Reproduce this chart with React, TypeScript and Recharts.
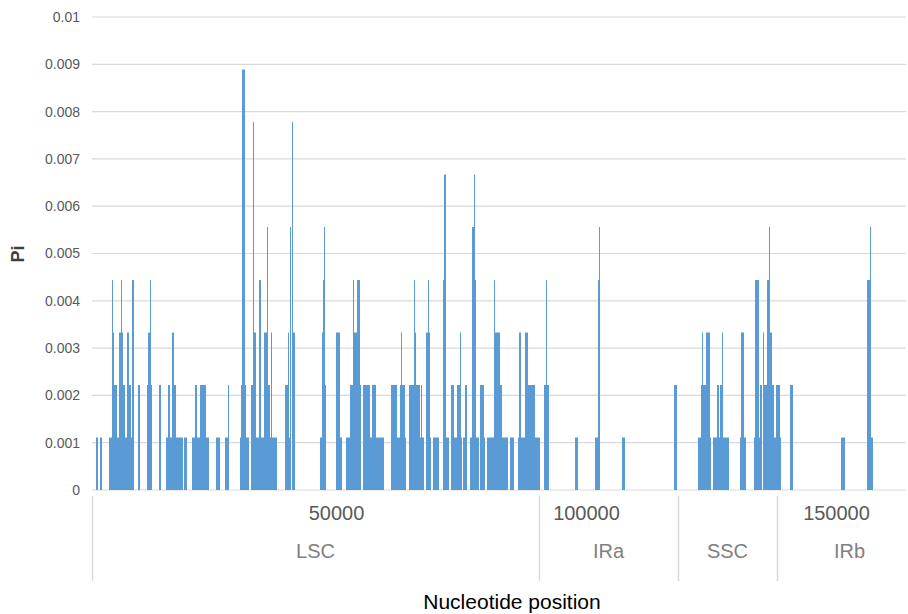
import React from 'react';
import { BarChart, Bar, XAxis, YAxis, CartesianGrid, Label } from 'recharts';

// Pi values (multiples of 1/900)
const P1 = 0.00111, P2 = 0.00222, P3 = 0.00333, P4 = 0.00444, P5 = 0.00556, P6 = 0.00667, P7 = 0.00778, P8 = 0.00889;

// Windows with non-zero nucleotide diversity: [start kb, end kb, Pi]
const lscBlocks: [number, number, number][] = [
  [1.9, 2.3, P1], [2.7, 3.1, P1], [4.5, 5.1, P1], [5.2, 5.6, P3], [5.6, 6.1, P2], [6.1, 6.5, P1],
  [6.5, 6.9, P3], [6.9, 7.3, P3], [7.3, 7.7, P2], [7.7, 8.1, P1], [8.1, 8.5, P3], [8.5, 8.9, P2],
  [8.9, 9.1, P1], [9.1, 9.5, P4], [10.4, 10.7, P2], [12.1, 12.4, P2], [12.4, 12.9, P3], [12.9, 13.1, P2],
  [14.6, 14.9, P2], [15.9, 16.4, P1], [16.4, 16.7, P2], [16.7, 17.2, P1], [17.2, 17.6, P3], [17.6, 17.9, P2],
  [17.9, 19.4, P1], [19.5, 20.2, P1], [21.1, 21.7, P1], [21.7, 22.1, P2], [22.1, 22.7, P1], [22.7, 24.0, P2],
  [24.0, 24.5, P1], [26.0, 26.8, P1], [27.8, 28.3, P1], [30.7, 30.9, P1], [30.9, 31.2, P2], [31.2, 31.7, P8],
  [31.7, 32.0, P2], [32.0, 32.5, P1], [32.9, 33.4, P2], [33.4, 33.6, P6], [33.6, 33.9, P3], [33.9, 34.5, P1],
  [34.5, 35.0, P4], [35.0, 35.6, P1], [35.6, 36.4, P3], [36.4, 36.8, P2], [36.8, 38.2, P1], [39.8, 40.3, P2],
  [40.3, 40.7, P1], [40.7, 41.0, P5], [41.1, 41.8, P3], [46.7, 47.1, P1], [47.1, 47.3, P3], [47.3, 47.6, P4],
  [47.6, 48.0, P2], [50.0, 50.7, P3], [50.7, 51.1, P1], [52.0, 52.7, P1], [52.7, 53.1, P2], [53.1, 53.5, P2],
  [53.5, 54.1, P3], [54.1, 54.7, P4], [54.7, 54.9, P2], [55.3, 56.7, P2], [56.7, 57.1, P1], [57.1, 58.0, P2],
  [58.0, 59.5, P1], [60.9, 62.1, P2], [62.1, 62.7, P1], [62.7, 63.1, P2], [63.1, 63.7, P2], [63.7, 64.0, P1],
  [64.5, 65.5, P2], [65.5, 66.0, P3], [66.0, 66.8, P2], [66.8, 67.6, P1], [68.0, 68.7, P3], [68.7, 68.9, P1],
  [69.3, 70.5, P1], [71.3, 72.0, P4], [71.6, 71.9, P6], [72.0, 72.5, P1], [72.9, 73.5, P2], [73.5, 74.1, P1],
  [74.1, 74.8, P2], [74.8, 75.1, P1], [75.3, 75.8, P1], [75.8, 76.1, P2], [76.7, 77.1, P1], [77.1, 77.5, P5],
  [77.5, 77.7, P6], [77.7, 78.0, P4], [78.0, 78.5, P1], [78.8, 79.5, P2], [79.5, 79.8, P1], [80.1, 81.5, P1],
  [81.6, 82.8, P3], [82.8, 83.1, P2], [83.1, 84.3, P1], [84.8, 85.5, P1], [86.3, 86.5, P1], [86.5, 86.9, P3],
  [86.9, 87.8, P1], [87.8, 88.3, P3], [88.3, 89.8, P2], [89.8, 90.7, P1],
];
const lscPeaks: [number, number][] = [
  [5.1, P4], [6.9, P4], [12.7, P4], [28.3, P2], [33.3, P7], [36.1, P5], [36.9, P3], [40.3, P3],
  [41.1, P7], [47.5, P5], [53.3, P4], [63.0, P3], [65.6, P4], [67.0, P2], [68.3, P4], [74.7, P3], [81.5, P4],
];

const iraBlocks: [number, number, number][] = [
  [91.5, 92.5, P2], [97.8, 98.3, P1], [101.8, 102.3, P1], [102.3, 102.8, P4], [107.1, 107.8, P1], [117.5, 118.1, P2],
];
const iraPeaks: [number, number][] = [[92.0, P4], [102.5, P5]];

const sscBlocks: [number, number, number][] = [
  [122.3, 122.9, P1], [122.9, 123.4, P2], [123.4, 124.0, P2], [124.0, 124.7, P3], [124.7, 124.9, P1],
  [125.3, 126.1, P1], [126.1, 126.5, P2], [126.5, 126.7, P1], [126.7, 127.2, P2], [127.2, 128.5, P1],
  [130.8, 131.0, P1], [131.0, 131.5, P3], [131.5, 131.9, P1], [133.5, 133.8, P1], [133.8, 134.5, P4],
  [134.5, 134.8, P1], [134.8, 135.2, P2], [135.5, 136.1, P2], [136.1, 136.5, P4], [136.5, 137.1, P3],
  [137.1, 137.6, P2], [137.6, 138.0, P1], [138.0, 138.7, P2], [138.7, 138.9, P1],
];
const sscPeaks: [number, number][] = [[123.1, P3], [127.2, P3], [135.3, P3], [136.5, P5]];

const irbBlocks: [number, number, number][] = [
  [140.8, 141.3, P2], [151.0, 151.7, P1], [156.1, 156.7, P4], [156.7, 157.3, P1],
];
const irbPeaks: [number, number][] = [[156.7, P5]];

// Axis labels
const positionTicks = [50000, 100000, 150000];
const yTicks = [0, 0.001, 0.002, 0.003, 0.004, 0.005, 0.006, 0.007, 0.008, 0.009, 0.01];
const regionNames = ['LSC', 'IRa', 'SSC', 'IRb'];
const regionStartKb = [1.2, 90.5, 118.3, 138.1];
const regionEndKb = [90.5, 118.3, 138.1, 167.0];

// Sliding windows (200 bp step) covering the displayed range
const START_BP = 1200;
const STEP_BP = 200;
const N_WINDOWS = 814;

const windows = Array.from({ length: N_WINDOWS }, (_, i) => ({ pos: START_BP + i * STEP_BP, pi: 0 }));
const allBlocks = [...lscBlocks, ...iraBlocks, ...sscBlocks, ...irbBlocks];
const allPeaks = [...lscPeaks, ...iraPeaks, ...sscPeaks, ...irbPeaks];
allBlocks.forEach(([a, b, v]) => {
  const lo = Math.round(a * 1000);
  const hi = Math.round(b * 1000);
  windows.forEach((w) => {
    if (w.pos >= lo && w.pos < hi && v > w.pi) w.pi = v;
  });
});
allPeaks.forEach(([p, v]) => {
  const idx = Math.round((p * 1000 - START_BP) / STEP_BP);
  if (idx >= 0 && idx < N_WINDOWS && v > windows[idx].pi) windows[idx].pi = v;
});

// snap a bp position to the nearest window so the category axis can place it
const snap = (bp: number) => START_BP + Math.round((bp - START_BP) / STEP_BP) * STEP_BP;
const regionBoundsBp = regionStartKb.map((k) => snap(k * 1000));
const regionCentersBp = regionStartKb.map((k, i) => snap(((k + regionEndKb[i]) / 2) * 1000));
const allXTicks = [...positionTicks, ...regionBoundsBp, ...regionCentersBp];

const FONT = '"Liberation Sans", Arial, sans-serif';

const AxisTick = (props: any) => {
  const { x, y, payload } = props;
  const v = payload.value;
  if (positionTicks.indexOf(v) >= 0) {
    return (
      <text x={x} y={y + 30} textAnchor="middle" fill="#595959" fontSize={20} fontFamily={FONT}>
        {String(v)}
      </text>
    );
  }
  if (regionBoundsBp.indexOf(v) >= 0) {
    return <line x1={x} x2={x} y1={y + 6} y2={y + 91} stroke="#d9d9d9" strokeWidth={1.5} />;
  }
  const ci = regionCentersBp.indexOf(v);
  return (
    <text x={x} y={y + 68} textAnchor="middle" fill="#7f7f7f" fontSize={20} fontFamily={FONT}>
      {ci >= 0 ? regionNames[ci] : ''}
    </text>
  );
};

const TitleLabel = () => (
  <text x={512} y={609} textAnchor="middle" fill="#000" fontSize={21} fontFamily={FONT}>
    Nucleotide position
  </text>
);

const PiLabel = () => (
  <text
    x={18}
    y={254}
    transform="rotate(-90, 18, 254)"
    textAnchor="middle"
    dominantBaseline="central"
    fill="#404040"
    fontSize={18}
    fontWeight="bold"
    fontFamily={FONT}
  >
    Pi
  </text>
);

export default function App() {
  return (
    <div style={{ position: 'absolute', left: 0, top: 0, width: 908, height: 614, background: '#fff' }}>
      <BarChart
        width={908}
        height={614}
        data={windows}
        margin={{ top: 17, right: 2, left: 0, bottom: 0 }}
        barCategoryGap={0}
        barGap={0}
      >
        <CartesianGrid vertical={false} stroke="#d9d9d9" strokeWidth={1.2} />
        <XAxis
          dataKey="pos"
          type="category"
          ticks={allXTicks}
          interval={0}
          height={124}
          axisLine={false}
          tickLine={false}
          tickSize={0}
          tickMargin={0}
          tick={<AxisTick />}
        >
          <Label content={<TitleLabel />} />
        </XAxis>
        <YAxis
          type="number"
          domain={[0, 0.01]}
          ticks={yTicks}
          interval={0}
          width={92}
          axisLine={false}
          tickLine={false}
          tickSize={6}
          tickMargin={6}
          tick={{ fill: '#595959', fontSize: 14, fontFamily: FONT }}
          tickFormatter={(v: number) => String(v)}
        >
          <Label content={<PiLabel />} />
        </YAxis>
        <Bar dataKey="pi" fill="#5B9BD5" isAnimationActive={false} />
      </BarChart>
    </div>
  );
}
